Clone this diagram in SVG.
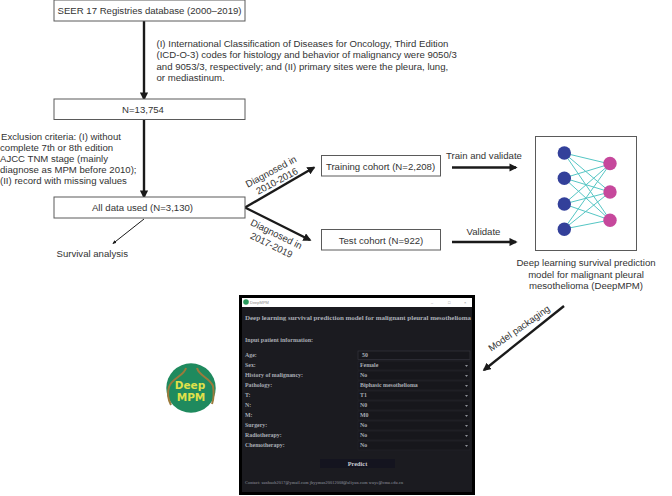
<svg xmlns="http://www.w3.org/2000/svg" width="672" height="496" viewBox="0 0 672 496">
<style>
text{font-family:"Liberation Sans",Arial,sans-serif;font-size:9.6px;fill:#333}
.box{fill:#fff;stroke:#5a5a5a;stroke-width:1}
.mid{text-anchor:middle}
.app{font-family:"Liberation Serif","Times New Roman",serif;font-weight:bold;fill:#a9adb5}
.s{font-size:5.900px}
.fld{fill:#17171c;stroke:#26262c;stroke-width:.6}
.nn{stroke:#55c6c4;stroke-width:1}
.wire{stroke:#1a1a1a;fill:none}
.in{fill:#33409a}.out{fill:#c6489c}
.tri{fill:#8c8f96}
.badge{font-family:"DejaVu Sans",sans-serif;font-size:10.500px;font-weight:bold;fill:#dfe04a}
</style>
<defs>
<marker id="head" viewBox="0 0 10 10" refX="8" refY="5" markerWidth="3.4" markerHeight="3.4" orient="auto"><path d="M0 0L10 5L0 10z" fill="#1a1a1a"/></marker>
<marker id="thin" viewBox="0 0 10 10" refX="8" refY="5" markerWidth="4" markerHeight="4" orient="auto"><path d="M0 1L10 5L0 9z" fill="#1a1a1a"/></marker>
</defs>

<g id="connectors">
<path class="wire" stroke-width="2.400" marker-end="url(#head)" d="M144 21V99"/>
<path class="wire" stroke-width="2.400" marker-end="url(#head)" d="M144 120V197"/>
<path class="wire" stroke-width="1" marker-end="url(#thin)" d="M144 219L113 243.500"/>
<path class="wire" stroke-width="2.400" marker-end="url(#head)" d="M245 207.500L314 167.500"/>
<path class="wire" stroke-width="2.400" marker-end="url(#head)" d="M245 207.500L310 240"/>
<path class="wire" stroke-width="2.400" marker-end="url(#head)" d="M452 167.500H516"/>
<path class="wire" stroke-width="2.400" marker-end="url(#head)" d="M452 242H516"/>
<path class="wire" stroke-width="2.400" marker-end="url(#head)" d="M564 306L484 370"/>
</g>

<g id="source"><rect class="box" x="54" y="0" width="191" height="21"/><text class="mid" x="149.500" y="14">SEER 17 Registries database (2000–2019)</text></g>
<g id="inclusion-note">
<text x="156.500" y="47">(I) International Classification of Diseases for Oncology, Third Edition</text>
<text x="156.500" y="58">(ICD-O-3) codes for histology and behavior of malignancy were 9050/3</text>
<text x="156.500" y="69.500">and 9053/3, respectively; and (II) primary sites were the pleura, lung,</text>
<text x="156.500" y="80.500">or mediastinum.</text>
</g>
<g id="n13754"><rect class="box" x="54" y="99" width="191" height="20.500"/><text class="mid" x="143" y="112.500">N=13,754</text></g>
<g id="exclusion-note">
<text x="1" y="140">Exclusion criteria: (I) without</text>
<text x="0" y="151">complete 7th or 8th edition</text>
<text x="0" y="162">AJCC TNM stage (mainly</text>
<text x="0" y="173">diagnose as MPM before 2010);</text>
<text x="0" y="184">(II) record with missing values</text>
</g>
<g id="all-data"><rect class="box" x="54" y="197" width="191" height="21"/><text class="mid" x="142.500" y="211">All data used (N=3,130)</text></g>
<g id="survival"><text x="56.500" y="257">Survival analysis</text></g>

<g id="split-labels">
<text class="mid" transform="translate(272.500 174.500) rotate(-28)">Diagnosed in</text>
<text class="mid" transform="translate(278.500 184) rotate(-28)">2010-2016</text>
<text class="mid" transform="translate(275 237) rotate(26)">Diagnosed in</text>
<text class="mid" transform="translate(270 248) rotate(26)">2017-2019</text>
</g>
<g id="training"><rect class="box" x="321.500" y="155.500" width="119" height="20.500"/><text class="mid" x="380.500" y="169.500">Training cohort (N=2,208)</text></g>
<g id="test"><rect class="box" x="321.500" y="229.500" width="119" height="20.500"/><text class="mid" x="381" y="243.500">Test cohort (N=922)</text></g>
<g id="edge-labels">
<text x="446" y="159">Train and validate</text>
<text x="466.500" y="235">Validate</text>
<text class="mid" transform="translate(521 331) rotate(-35)">Model packaging</text>
</g>

<g id="network">
<rect x="535.500" y="136.500" width="101" height="114" fill="#fff" stroke="#5a5a5a" stroke-width="1"/>
<g class="nn">
<path d="M564 153L610 164M564 153L610 192M564 153L610 220M564 178L610 164M564 178L610 192M564 178L610 220M564 204L610 164M564 204L610 192M564 204L610 220M564 229L610 164M564 229L610 192M564 229L610 220"/>
</g>
<circle class="in" cx="564.300" cy="153" r="6.700"/><circle class="in" cx="564.300" cy="178.300" r="6.700"/><circle class="in" cx="564.300" cy="204" r="6.700"/><circle class="in" cx="564.300" cy="229.300" r="6.700"/>
<circle class="out" cx="610" cy="163.500" r="6.700"/><circle class="out" cx="610" cy="192" r="6.700"/><circle class="out" cx="610" cy="220.300" r="6.700"/>
</g>
<g id="model-caption">
<text class="mid" x="586" y="266">Deep learning survival prediction</text>
<text class="mid" x="586" y="277.500">model for malignant pleural</text>
<text class="mid" x="586" y="288.500">mesothelioma (DeepMPM)</text>
</g>

<g id="logo">
<circle cx="191" cy="388" r="24.700" fill="#1f8a5e"/>
<path d="M186 368C184 376 172 378 169 387C167 393 168 399 171 405M197 368C199 376 210 378 213 386C214 392 214 398 212 404" fill="none" stroke="#9b7a3c" stroke-width="2"/>
<text class="badge mid" x="190" y="389">Deep</text>
<text class="badge mid" x="191" y="401">MPM</text>
</g>

<g id="application-window">
<rect x="240.500" y="296.500" width="233" height="197" fill="#1b1b20" stroke="#000" stroke-width="3"/>
<rect x="242" y="298" width="230" height="9" fill="#fff"/>
<circle cx="246" cy="302" r="2.800" fill="#2a9a5c"/>
<text x="250" y="304" style="font-size:4px;fill:#888">DeepMPM</text>
<text x="431" y="304" style="font-size:4px;fill:#888">–</text><text x="448" y="304" style="font-size:4px;fill:#888">□</text><text x="464" y="304" style="font-size:4px;fill:#888">×</text>
<text class="app" x="245" y="320" textLength="226" lengthAdjust="spacing" style="font-size:7px">Deep learning survival prediction model for malignant pleural mesothelioma</text>
<text class="app" x="245" y="341.500" style="font-size:6px">Input patient information:</text>

<rect class="fld" x="358" y="351" width="112" height="8.500" style="stroke:#3a3a42"/>
<rect class="fld" x="358" y="361" width="112" height="9"/>
<rect class="fld" x="358" y="371" width="112" height="9"/>
<rect class="fld" x="358" y="381" width="112" height="9"/>
<rect class="fld" x="358" y="391" width="112" height="9"/>
<rect class="fld" x="358" y="401" width="112" height="9"/>
<rect class="fld" x="358" y="411" width="112" height="9"/>
<rect class="fld" x="358" y="421" width="112" height="9"/>
<rect class="fld" x="358" y="431" width="112" height="9"/>
<rect class="fld" x="358" y="441" width="112" height="9"/>

<text class="app s" x="245" y="357">Age:</text><text class="app s" x="362" y="357">50</text>
<text class="app s" x="245" y="367">Sex:</text><text class="app s" x="360" y="367">Female</text>
<text class="app s" x="245" y="377">History of malignancy:</text><text class="app s" x="360" y="377">No</text>
<text class="app s" x="245" y="387">Pathology:</text><text class="app s" x="360" y="387">Biphasic mesothelioma</text>
<text class="app s" x="245" y="397">T:</text><text class="app s" x="360" y="397">T1</text>
<text class="app s" x="245" y="407">N:</text><text class="app s" x="360" y="407">N0</text>
<text class="app s" x="245" y="417">M:</text><text class="app s" x="360" y="417">M0</text>
<text class="app s" x="245" y="427">Surgery:</text><text class="app s" x="360" y="427">No</text>
<text class="app s" x="245" y="437">Radiotherapy:</text><text class="app s" x="360" y="437">No</text>
<text class="app s" x="245" y="447">Chemotherapy:</text><text class="app s" x="360" y="447">No</text>
<path class="tri" d="M465 365h3l-1.500 2zM465 375h3l-1.500 2zM465 385h3l-1.500 2zM465 395h3l-1.500 2zM465 405h3l-1.500 2zM465 415h3l-1.500 2zM465 425h3l-1.500 2zM465 435h3l-1.500 2zM465 445h3l-1.500 2z"/>

<rect x="320" y="459" width="75" height="9" fill="#14141f"/>
<text class="app mid" x="357.500" y="466" style="font-size:6.300px;fill:#c8cad0">Predict</text>
<text x="245" y="484" textLength="158" style="font-family:'Liberation Serif',serif;font-size:4.200px;fill:#9a9da5">Contact:  sunhaoh2017@ymail.com    jbyyman20012008@aliyun.com    wuye@cmu.edu.cn</text>
</g>
</svg>
